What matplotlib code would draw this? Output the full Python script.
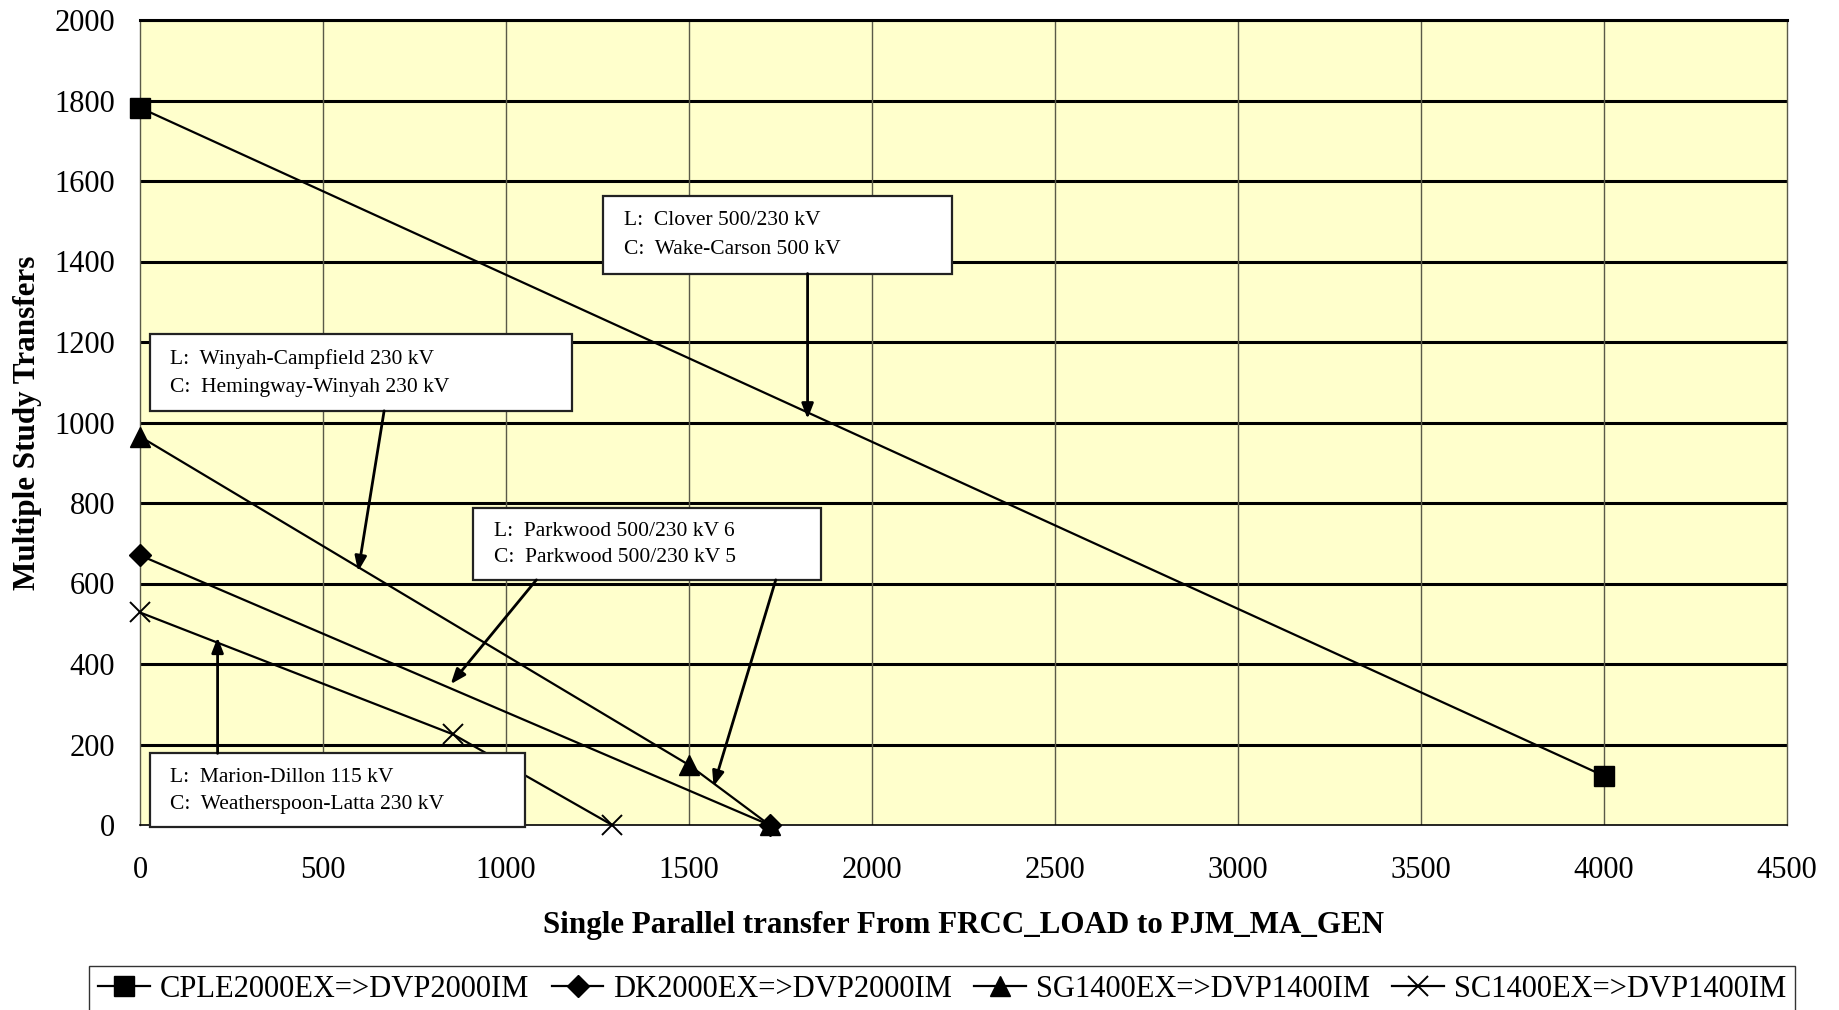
import matplotlib
matplotlib.use("Agg")
import matplotlib.pyplot as plt
from matplotlib.patches import Rectangle
from matplotlib.lines import Line2D

plt.rcParams["font.family"] = ["Liberation Serif", "DejaVu Serif"]

# ─── Data ────────────────────────────────────────────────────
cple_x = [0, 4000]
cple_y = [1782, 122]
dk_x = [0, 1720]
dk_y = [670, 0]
sg_x = [0, 1500, 1720]
sg_y = [965, 149, 0]
sc_x = [0, 856, 1290]
sc_y = [528, 225, 0]

series_labels = ["CPLE2000EX=>DVP2000IM", "DK2000EX=>DVP2000IM",
                 "SG1400EX=>DVP1400IM", "SC1400EX=>DVP1400IM"]

x_ticks = [0, 500, 1000, 1500, 2000, 2500, 3000, 3500, 4000, 4500]
y_ticks = [0, 200, 400, 600, 800, 1000, 1200, 1400, 1600, 1800, 2000]

# boxes: (x0, y0, x1, y1, line L, line C)
boxes = [
    (1266, 1370, 2218, 1563, "L:  Clover 500/230 kV", "C:  Wake-Carson 500 kV"),
    (26, 1029, 1179, 1219, "L:  Winyah-Campfield 230 kV", "C:  Hemingway-Winyah 230 kV"),
    (910, 609, 1862, 787, "L:  Parkwood 500/230 kV 6", "C:  Parkwood 500/230 kV 5"),
    (26, -6, 1051, 178, "L:  Marion-Dillon 115 kV", "C:  Weatherspoon-Latta 230 kV"),
]
# arrows: (tail, head)
arrows = [
    ((1824, 1370), (1824, 1009)),
    ((667, 1029), (596, 630)),
    ((1083, 609), (849, 350)),
    ((1737, 609), (1567, 96)),
    ((212, 178), (212, 466)),
]

# ─── Plot ────────────────────────────────────────────────────
fig = plt.figure(figsize=(18.4, 10.1), dpi=100)
ax = fig.add_axes([140 / 1840, 185 / 1010, 1647 / 1840, 805 / 1010])
ax.set_facecolor("#FFFFCC")

ax.set_xlim(0, 4500)
ax.set_ylim(0, 2000)
ax.set_xticks(x_ticks)
ax.set_yticks(y_ticks)
ax.tick_params(length=0, labelsize=22)
ax.tick_params(axis="x", pad=22)
ax.tick_params(axis="y", pad=18)

for y in y_ticks[1:]:
    ax.axhline(y, color="black", lw=2.2, zorder=1)
for x in x_ticks[1:-1]:
    ax.axvline(x, color="#5a5a48", lw=1.0, zorder=1)

for side in ("left", "right"):
    ax.spines[side].set_color("#5a5a48")
    ax.spines[side].set_linewidth(1.0)
ax.spines["bottom"].set_color("black")
ax.spines["bottom"].set_linewidth(1.2)
ax.spines["top"].set_linewidth(2.2)

ms = 14
ax.plot(cple_x, cple_y, color="black", lw=1.6, marker="s", ms=ms, clip_on=False, zorder=4)
ax.plot(dk_x, dk_y, color="black", lw=1.6, marker="D", ms=11, clip_on=False, zorder=4)
ax.plot(sg_x, sg_y, color="black", lw=1.6, marker="^", ms=ms, clip_on=False, zorder=4)
ax.plot(sc_x, sc_y, color="black", lw=1.6, marker="x", ms=ms, mew=1.4, clip_on=False, zorder=4)

# Annotation boxes
for x0, y0, x1, y1, l1, l2 in boxes:
    ax.add_patch(Rectangle((x0, y0), x1 - x0, y1 - y0, facecolor="white",
                           edgecolor="#222222", lw=1.6, zorder=6, clip_on=False))
    h = y1 - y0
    ax.text(x0 + 57, y0 + h * 0.68, l1, fontsize=15.5, va="center", ha="left", zorder=7)
    ax.text(x0 + 57, y0 + h * 0.31, l2, fontsize=15.5, va="center", ha="left", zorder=7)

for tail, head in arrows:
    ax.annotate("", xy=head, xytext=tail,
                arrowprops=dict(arrowstyle="-|>,head_length=0.9,head_width=0.35",
                                color="black", lw=2.0, shrinkA=0, shrinkB=0),
                zorder=8, annotation_clip=False)

ax.set_xlabel("Single Parallel transfer From FRCC_LOAD to PJM_MA_GEN",
              fontsize=22.3, fontweight="bold", labelpad=19)
ax.set_ylabel("Multiple Study Transfers", fontsize=22.4, fontweight="bold", labelpad=9)

# Legend
handles = [
    Line2D([], [], color="black", lw=1.6, marker="s", ms=ms),
    Line2D([], [], color="black", lw=1.6, marker="D", ms=11),
    Line2D([], [], color="black", lw=1.6, marker="^", ms=ms),
    Line2D([], [], color="black", lw=1.6, marker="x", ms=ms, mew=1.4),
]
leg = fig.legend(handles, series_labels, loc="upper center", ncol=4,
                 bbox_to_anchor=(942 / 1840, 1 - 966 / 1010), fontsize=22,
                 frameon=True, fancybox=False, edgecolor="black",
                 handlelength=1.7, handletextpad=0.3, columnspacing=0.75,
                 borderpad=0.3, borderaxespad=0)
leg.get_frame().set_linewidth(1.0)

fig.savefig("out.png", dpi=100)
